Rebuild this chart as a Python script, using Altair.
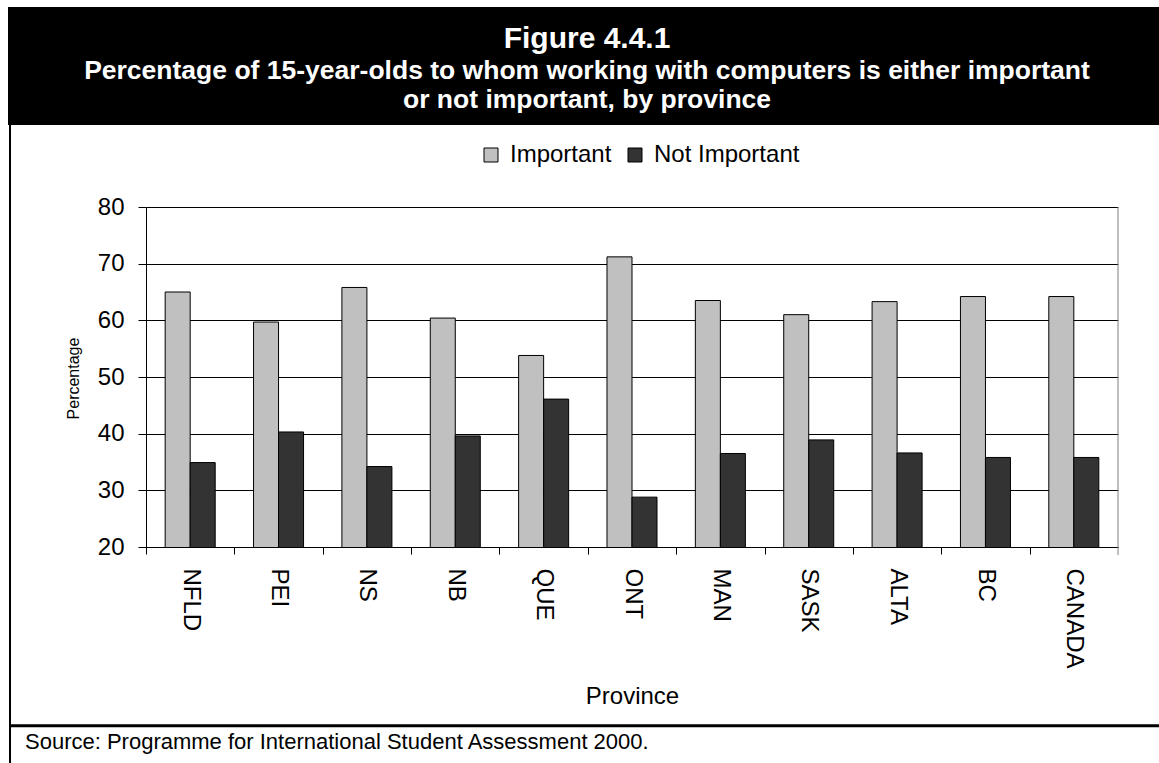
import altair as alt
import pandas as pd

provinces = ["NFLD", "PEI", "NS", "NB", "QUE", "ONT", "MAN", "SASK", "ALTA", "BC", "CANADA"]
important = [65.0, 59.7, 65.8, 60.4, 53.8, 71.2, 63.5, 61.0, 63.3, 64.2, 64.2]
not_important = [34.9, 40.3, 34.2, 39.6, 46.1, 28.8, 36.5, 38.9, 36.6, 35.8, 35.8]
series = ["Important", "Not Important"]
colors = ["#C0C0C0", "#333333"]
y_ticks = [20, 30, 40, 50, 60, 70, 80]
title_main = "Figure 4.4.1"
title_line1 = "Percentage of 15-year-olds to whom working with computers is either important"
title_line2 = "or not important, by province"
source_text = "Source: Programme for International Student Assessment 2000."

rows = []
for p, a, b in zip(provinces, important, not_important):
    rows.append({"Province": p, "Response": series[0], "Percentage": a})
    rows.append({"Province": p, "Response": series[1], "Percentage": b})
df = pd.DataFrame(rows)

W, H = 972, 340
FONT = "Liberation Sans"
one = pd.DataFrame({"k": [0]})

band = alt.Chart(one).mark_rect(color="black").encode(
    x=alt.value(-138), x2=alt.value(1013), y=alt.value(-200), y2=alt.value(-82))
left_border = alt.Chart(one).mark_rect(color="black").encode(
    x=alt.value(-137), x2=alt.value(-135), y=alt.value(-82), y2=alt.value(556))
divider = alt.Chart(one).mark_rect(color="black").encode(
    x=alt.value(-137), x2=alt.value(1013), y=alt.value(517.3), y2=alt.value(520.3))

def label(text, x, y, size, weight="normal", color="black", align="center"):
    return alt.Chart(one).mark_text(text=text, font=FONT, fontSize=size, fontWeight=weight,
                                    color=color, align=align, baseline="alphabetic").encode(
        x=alt.value(x), y=alt.value(y))

t1 = label(title_main, 441, -159, 30, "bold", "white")
t2 = label(title_line1, 441, -128, 26.5, "bold", "white")
t3 = label(title_line2, 441, -99, 26.5, "bold", "white")
src = label(source_text, -121, 542, 22, align="left")

right_border = alt.Chart(one).mark_rule(color="#808080", strokeWidth=1).encode(
    x=alt.value(W), y=alt.value(0), y2=alt.value(348))

bars = alt.Chart(df).mark_bar(stroke="black", strokeWidth=1, clip=True).encode(
    x=alt.X("Province:N", sort=provinces,
            scale=alt.Scale(paddingInner=0.434, paddingOuter=0.217),
            axis=alt.Axis(title="Province", labelAngle=90, labelFontSize=24, labelFont=FONT,
                          labelColor="black", labelPadding=14, tickSize=7, tickColor="black",
                          domainColor="black", bandPosition=0.5, tickOffset=-44.2, labelOffset=44.2,
                          titleFontSize=24, titleFont=FONT, titleFontWeight="normal",
                          titleColor="black", titleBaseline="alphabetic", titleY=156, grid=False)),
    xOffset=alt.XOffset("Response:N", sort=series, scale=alt.Scale(paddingInner=0, paddingOuter=0)),
    y=alt.Y("Percentage:Q", scale=alt.Scale(domain=[20, 80], zero=False, nice=False),
            axis=alt.Axis(values=y_ticks, title="Percentage", labelFontSize=24, labelFont=FONT,
                          labelColor="black", labelPadding=14, tickSize=8, tickColor="black",
                          domainColor="black", grid=True, gridColor="black", gridWidth=1,
                          titleFontSize=16, titleFont=FONT, titleFontWeight="normal",
                          titleColor="black", titleX=-73, titleY=171, titleBaseline="middle")),
    color=alt.Color("Response:N", sort=series,
                    scale=alt.Scale(domain=series, range=colors),
                    legend=alt.Legend(title=None, orient="none", legendX=333, legendY=-64,
                                      direction="horizontal", symbolType="square", symbolSize=196,
                                      symbolStrokeColor="black", symbolStrokeWidth=1,
                                      labelFontSize=24, labelFont=FONT, labelColor="black",
                                      labelOffset=7, columnPadding=11, padding=0)),
)

chart = alt.layer(band, left_border, divider, t1, t2, t3, src, bars, right_border).properties(
    width=W, height=H,
    padding={"left": 146, "top": 207, "right": 41, "bottom": 216},
    autosize="none", background="white",
).configure_view(strokeWidth=0)

chart.save("out.html", embed_options={"renderer": "svg", "actions": False})
